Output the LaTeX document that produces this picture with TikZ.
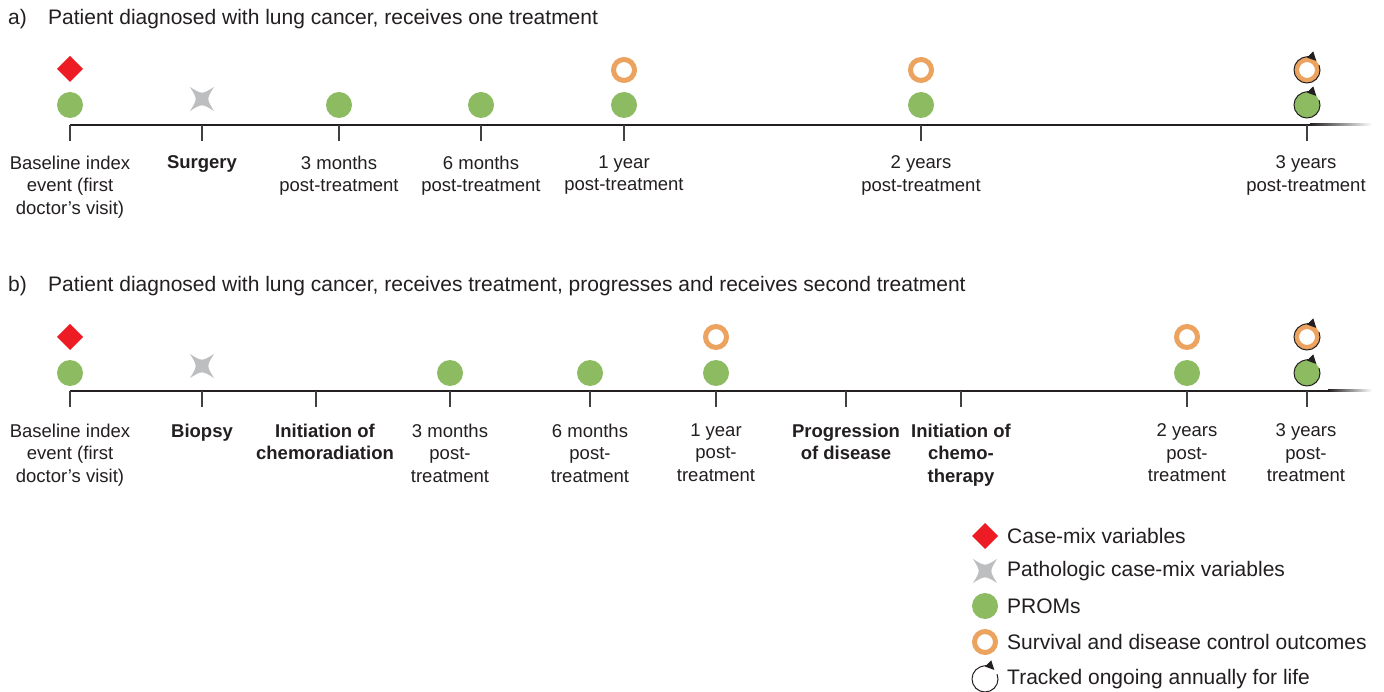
\documentclass[tikz,border=0pt]{standalone}
\usepackage{fontspec}
\setmainfont{Liberation Sans}
\usetikzlibrary{arrows.meta}
\definecolor{cmred}{HTML}{ED1C24}
\definecolor{pathgray}{HTML}{BCBEC0}
\definecolor{promgreen}{HTML}{8DBB61}
\definecolor{survorange}{HTML}{EBA35F}
\definecolor{txt}{HTML}{231F20}
\definecolor{tickgray}{HTML}{404040}

\tikzset{
  casemix/.pic={\fill[cmred] (0,-13) -- (13,0) -- (0,13) -- (-13,0) -- cycle;},
  patho/.pic={\fill[pathgray] (-12,-12) .. controls (0,-4.5) .. (12,-12)
      .. controls (4.5,0) .. (12,12) .. controls (0,4.5) .. (-12,12)
      .. controls (-4.5,0) .. cycle;},
  prom/.pic={\fill[promgreen] (0,0) circle (13);},
  surv/.pic={\draw[survorange, line width=5pt] (0,0) circle (10.5);},
  % clockwise circle with an arrowhead near the top (drawn with y pointing up)
  annual/.pic={\begin{scope}[y=1pt]
      \draw[txt, line width=1pt, -{Triangle[length=9pt,width=8.5pt]}]
        (22:13) arc[start angle=22, end angle=-316, radius=13];
      \end{scope}},
  lbl/.style={font=\fontsize{18.5}{22.5}\selectfont, align=center, anchor=north,
      inner sep=0pt, text=txt},
  ttl/.style={font=\fontsize{21}{24}\selectfont, anchor=base west, inner sep=0pt, text=txt},
  leg/.style={font=\fontsize{21}{24}\selectfont, anchor=west, inner sep=0pt, text=txt},
  axis/.style={line width=2pt, txt},
  tick/.style={line width=1.5pt, tickgray},
}

\begin{document}
\begin{tikzpicture}[x=1pt,y=-1pt]
\useasboundingbox[fill=white] (0,0) rectangle (1384,692);

% ---------- panel a ----------
\node[ttl] (ta) at (8,25) {a)};
\node[ttl] (tta) at (48,25) {Patient diagnosed with lung cancer, receives one treatment};

\coordinate (a0) at (70,125);
\coordinate (aend) at (1310,125);
\draw[axis] (a0) -- (aend);
\shade[left color=txt, right color=white] (1310,124) rectangle (1372,126);

\foreach \x/\name in {70/a1,202/a2,339/a3,481/a4,624/a5,921/a6,1307/a7}{
  \coordinate (\name) at (\x,125);
  \draw[tick] (\name) -- ++(0,16);
}

\pic at (70,69) {casemix};
\pic at (70,105) {prom};
\pic at (202,99) {patho};
\foreach \x in {339,481,624,921,1307} \pic at (\x,105) {prom};
\foreach \x in {624,921,1307} \pic at (\x,70) {surv};
\pic at (1307,70) {annual};
\pic at (1307,105) {annual};

\node[lbl] (la1) at (70,155.5) {Baseline index\\event (first\\doctor’s visit)};
\node[lbl] (la2) at (202,155.5) {\bfseries Surgery};
\node[lbl] (la3) at (339,155.5) {3 months\\post-treatment};
\node[lbl] (la4) at (481,155.5) {6 months\\post-treatment};
\node[lbl] (la5) at (624,155.5) {1 year\\post-treatment};
\node[lbl] (la6) at (921,155.5) {2 years\\post-treatment};
\node[lbl] (la7) at (1306,155.5) {3 years\\post-treatment};

% ---------- panel b ----------
\node[ttl] (tb) at (8,292) {b)};
\node[ttl] (ttb) at (48,292) {Patient diagnosed with lung cancer, receives treatment, progresses and receives second treatment};

\coordinate (b0) at (70,391);
\coordinate (bend) at (1328,391);
\draw[axis] (b0) -- (bend);
\shade[left color=txt, right color=white] (1328,390) rectangle (1372,392);

\foreach \x/\name in {70/b1,202/b2,316/b3,450/b4,590/b5,716/b6,846/b7,961/b8,1187/b9,1307/b10}{
  \coordinate (\name) at (\x,391);
  \draw[tick] (\name) -- ++(0,16);
}

\pic at (70,337) {casemix};
\pic at (70,373) {prom};
\pic at (202,366) {patho};
\foreach \x in {450,590,716,1187,1307} \pic at (\x,373) {prom};
\foreach \x in {716,1187,1307} \pic at (\x,337) {surv};
\pic at (1307,337) {annual};
\pic at (1307,373) {annual};

\node[lbl] (lb1) at (70,423.5) {Baseline index\\event (first\\doctor’s visit)};
\node[lbl] (lb2) at (202,423.5) {\bfseries Biopsy};
\node[lbl] (lb3) at (325,423.5) {\bfseries Initiation of\\\bfseries chemoradiation};
\node[lbl] (lb4) at (450,423.5) {3 months\\post-\\treatment};
\node[lbl] (lb5) at (590,423.5) {6 months\\post-\\treatment};
\node[lbl] (lb6) at (716,423.5) {1 year\\post-\\treatment};
\node[lbl] (lb7) at (846,423.5) {\bfseries Progression\\\bfseries of disease};
\node[lbl] (lb8) at (961,423.5) {\bfseries Initiation of\\\bfseries chemo-\\\bfseries therapy};
\node[lbl] (lb9) at (1187,423.5) {2 years\\post-\\treatment};
\node[lbl] (lb10) at (1306,423.5) {3 years\\post-\\treatment};

% ---------- legend ----------
\pic at (985,536) {casemix};
\pic at (985,571) {patho};
\pic at (985,606) {prom};
\pic at (985,642) {surv};
\pic at (985,679) {annual};
\node[leg] (k1) at (1007,536) {Case-mix variables};
\node[leg] (k2) at (1007,571) {Pathologic case-mix variables};
\node[leg] (k3) at (1007,606) {PROMs};
\node[leg] (k4) at (1007,642) {Survival and disease control outcomes};
\node[leg] (k5) at (1007,679) {Tracked ongoing annually for life};
\end{tikzpicture}
\end{document}
